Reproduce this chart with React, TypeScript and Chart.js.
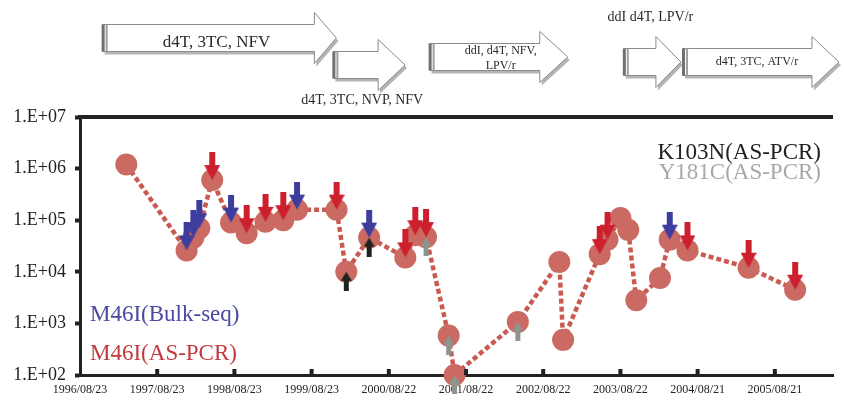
import React, { useEffect, useRef } from "react";
import { Chart, registerables } from "chart.js";

Chart.register(...registerables);

// ---------- data ----------
const sampleDates = [
  "1997/03/30", "1998/01/09", "1998/02/10", "1998/03/10", "1998/05/10",
  "1998/08/07", "1998/10/20", "1999/01/17", "1999/04/11", "1999/06/15",
  "1999/12/19", "2000/02/03", "2000/05/21", "2000/11/08", "2000/12/25",
  "2001/02/14", "2001/06/01", "2001/06/29", "2002/04/24", "2002/11/06",
  "2002/11/24", "2003/05/16", "2003/06/22", "2003/08/22", "2003/09/28",
  "2003/11/05", "2004/02/25", "2004/04/11", "2004/07/04", "2005/04/19",
  "2005/11/25",
];
const viralLoad = [
  1200000, 26000, 46000, 70000, 600000,
  90000, 56000, 93000, 100000, 160000,
  160000, 10000, 46000, 19000, 51000,
  47000, 580, 100, 1070, 15500,
  480, 22000, 42000, 110000, 65000,
  2800, 7600, 42000, 26000, 12000,
  4500,
];
// indices of samples where a mutation was detected
const m46iBulkSeqIdx = [1, 2, 3, 5, 9, 12, 27];
const m46iAsPcrIdx = [4, 6, 7, 8, 10, 13, 14, 15, 21, 22, 28, 29, 30];
const k103nAsPcrIdx = [11, 12];
const y181cAsPcrIdx = [15, 16, 17, 18];

const xTickLabels = [
  "1996/08/23", "1997/08/23", "1998/08/23", "1999/08/23", "2000/08/22",
  "2001/08/22", "2002/08/22", "2003/08/22", "2004/08/21", "2005/08/21",
];
const xRange = ["1996/08/23", "2006/05/23"];
const yTickValues = [1e2, 1e3, 1e4, 1e5, 1e6, 1e7];

const regimenLabels = [
  ["d4T, 3TC, NFV"],
  ["d4T, 3TC, NVP, NFV"],
  ["ddI, d4T, NFV,", "LPV/r"],
  ["ddI d4T, LPV/r"],
  ["d4T, 3TC, ATV/r"],
];
const regimenStart = ["1996/12/08", "1999/12/04", "2001/03/03", "2003/09/07", "2004/06/13"];
const regimenEnd = ["1999/12/18", "2000/11/07", "2002/12/16", "2004/06/03", "2006/06/20"];

const legendRight = ["K103N(AS-PCR)", "Y181C(AS-PCR)"];
const legendLeft = ["M46I(Bulk-seq)", "M46I(AS-PCR)"];

// ---------- styles / layout ----------
const SERIF = '"Liberation Serif", "DejaVu Serif", serif';
const COL_POINT = "#cb6a62";
const COL_LINE = "#c85a52";
const COL_RED = "#cd1f2e";
const COL_BLUE = "#3d3d9e";
const COL_BLACK = "#1c241e";
const COL_GRAY = "#8d9591";

const regimenLayout = [
  { cy: 38, head: 22, labelY: [43], labelDx: -3, font: 17 },
  { cy: 65, head: 27, labelY: [100], labelDx: -7, font: 14 },
  { cy: 57, head: 28, labelY: [51, 66], labelDx: 2, font: 12 },
  { cy: 62, head: 25, labelY: [17], labelDx: -2, font: 14 },
  { cy: 62, head: 27, labelY: [62], labelDx: -4, font: 12 },
];

const toTime = (s: string) => {
  const [y, m, d] = s.split("/").map(Number);
  return Date.UTC(y, m - 1, d);
};

function makeArrow(color: string, dir: "down" | "up", w: number, h: number, shaftW: number, headH: number) {
  const c = document.createElement("canvas");
  c.width = w;
  c.height = h * 2;
  const g = c.getContext("2d")!;
  g.fillStyle = color;
  g.beginPath();
  const cx = w / 2;
  if (dir === "down") {
    g.moveTo(cx - shaftW / 2, 0);
    g.lineTo(cx + shaftW / 2, 0);
    g.lineTo(cx + shaftW / 2, h - headH);
    g.lineTo(w, h - headH);
    g.lineTo(cx, h);
    g.lineTo(0, h - headH);
    g.lineTo(cx - shaftW / 2, h - headH);
  } else {
    g.moveTo(cx, h);
    g.lineTo(w, h + headH);
    g.lineTo(cx + shaftW / 2, h + headH);
    g.lineTo(cx + shaftW / 2, 2 * h);
    g.lineTo(cx - shaftW / 2, 2 * h);
    g.lineTo(cx - shaftW / 2, h + headH);
    g.lineTo(0, h + headH);
  }
  g.closePath();
  g.fill();
  return c;
}

function arrowPath(ctx: CanvasRenderingContext2D, x0: number, x1: number, cy: number, head: number) {
  const bh = 13.5;
  const hh = 25.5;
  const hx = x1 - head;
  ctx.beginPath();
  ctx.moveTo(x0, cy - bh);
  ctx.lineTo(hx, cy - bh);
  ctx.lineTo(hx, cy - hh);
  ctx.lineTo(x1, cy);
  ctx.lineTo(hx, cy + hh);
  ctx.lineTo(hx, cy + bh);
  ctx.lineTo(x0, cy + bh);
  ctx.closePath();
}

const headerPlugin = {
  id: "regimens",
  afterDraw(chart: any) {
    const ctx: CanvasRenderingContext2D = chart.ctx;
    const xs = chart.scales.x;
    ctx.save();
    regimenLabels.forEach((lines, i) => {
      const L = regimenLayout[i];
      const x0 = xs.getPixelForValue(toTime(regimenStart[i]));
      const x1 = xs.getPixelForValue(toTime(regimenEnd[i]));
      // shadow
      ctx.save();
      ctx.translate(2, 3);
      arrowPath(ctx, x0, x1, L.cy, L.head);
      ctx.fillStyle = "#b4b4b4";
      ctx.fill();
      ctx.restore();
      // body
      arrowPath(ctx, x0, x1, L.cy, L.head);
      ctx.fillStyle = "#ffffff";
      ctx.fill();
      ctx.lineWidth = 1;
      ctx.strokeStyle = "#8a8a8a";
      ctx.stroke();
      // double bar on the tail
      ctx.fillStyle = "#707070";
      ctx.fillRect(x0 - 1, L.cy - 13.5, 3, 27);
      ctx.fillStyle = "#a0a0a0";
      ctx.fillRect(x0 + 3, L.cy - 13.5, 2, 27);
      // label
      ctx.fillStyle = "#2a2a2a";
      ctx.font = `${L.font}px ${SERIF}`;
      ctx.textAlign = "center";
      ctx.textBaseline = "middle";
      const cx = (x0 + x1) / 2 + L.labelDx;
      lines.forEach((t, j) => ctx.fillText(t, cx, L.labelY[j]));
    });
    ctx.restore();
  },
};

const framePlugin = {
  id: "frame",
  afterDraw(chart: any) {
    const ctx: CanvasRenderingContext2D = chart.ctx;
    const a = chart.chartArea;
    const xs = chart.scales.x;
    ctx.save();
    ctx.fillStyle = "#222";
    ctx.fillRect(a.left - 2, a.top - 2, a.right - a.left + 2, 4);
    xTickLabels.forEach((lab, i) => {
      if (i === 0) return;
      const px = xs.getPixelForValue(toTime(lab));
      ctx.fillRect(px - 2, a.bottom - 6, 4, 6);
    });
    // legends
    ctx.font = `23px ${SERIF}`;
    ctx.textBaseline = "middle";
    ctx.textAlign = "right";
    ctx.fillStyle = "#222";
    ctx.fillText(legendRight[0], a.right - 12, a.top + 36);
    ctx.fillStyle = "#a8a8a8";
    ctx.fillText(legendRight[1], a.right - 12, a.top + 56);
    ctx.textAlign = "left";
    ctx.fillStyle = "#4a4aa2";
    ctx.fillText(legendLeft[0], a.left + 10, a.top + 198);
    ctx.fillStyle = "#c23a3e";
    ctx.fillText(legendLeft[1], a.left + 10, a.top + 237);
    ctx.restore();
  },
};

export default function App() {
  const ref = useRef<HTMLCanvasElement>(null);

  useEffect(() => {
    if (!ref.current) return;
    const pts = sampleDates.map((d, i) => ({ x: toTime(d), y: viralLoad[i] }));
    const pick = (idx: number[]) => idx.map((i) => pts[i]);

    const downRed = makeArrow(COL_RED, "down", 16, 28, 6, 15);
    const downBlue = makeArrow(COL_BLUE, "down", 16, 28, 6, 15);
    const upBlack = makeArrow(COL_BLACK, "up", 11, 19, 5, 9);
    const upGray = makeArrow(COL_GRAY, "up", 11, 19, 5, 9);

    const arrowDs = (label: string, data: any[], img: HTMLCanvasElement) => ({
      label,
      data,
      showLine: false,
      pointStyle: img,
      pointRadius: 10,
      order: 0,
      clip: false as any,
    });

    const chart = new Chart(ref.current, {
      type: "scatter",
      data: {
        datasets: [
          arrowDs("M46I(Bulk-seq)", pick(m46iBulkSeqIdx), downBlue),
          arrowDs("M46I(AS-PCR)", pick(m46iAsPcrIdx), downRed),
          arrowDs("K103N(AS-PCR)", pick(k103nAsPcrIdx), upBlack),
          arrowDs("Y181C(AS-PCR)", pick(y181cAsPcrIdx), upGray),
          {
            label: "Viral load",
            data: pts,
            showLine: true,
            borderColor: COL_LINE,
            borderWidth: 4.5,
            borderDash: [5, 3],
            pointStyle: "circle",
            pointRadius: 11,
            pointBackgroundColor: COL_POINT,
            pointBorderWidth: 0,
            order: 1,
            clip: false as any,
          },
        ],
      },
      options: {
        responsive: false,
        animation: false,
        events: [],
        layout: { padding: { top: 117, right: 0, left: 0, bottom: 0 } },
        plugins: { legend: { display: false }, tooltip: { enabled: false } },
        scales: {
          x: {
            type: "linear",
            min: toTime(xRange[0]),
            max: toTime(xRange[1]),
            grid: { display: false, drawTicks: false },
            border: { display: true, width: 3, color: "#222" },
            afterBuildTicks: (s: any) => {
              s.ticks = xTickLabels.map((l) => ({ value: toTime(l) }));
            },
            afterFit: (s: any) => {
              s.height = 29;
            },
            ticks: {
              autoSkip: false,
              maxRotation: 0,
              padding: 8,
              color: "#222",
              font: { family: SERIF, size: 12 },
              callback: (_v: any, i: number) => xTickLabels[i],
            },
          },
          y: {
            type: "logarithmic",
            min: 1e2,
            max: 1e7,
            grid: { display: true, drawOnChartArea: false, drawTicks: true, tickLength: 5, tickWidth: 4, color: "#222" },
            border: { display: true, width: 3, color: "#222" },
            afterBuildTicks: (s: any) => {
              s.ticks = yTickValues.map((v) => ({ value: v }));
            },
            afterFit: (s: any) => {
              s.width = 80;
            },
            ticks: {
              padding: 9,
              color: "#222",
              font: { family: SERIF, size: 18 },
              callback: (v: any) => "1.E+0" + Math.round(Math.log10(Number(v))),
            },
          },
        },
      },
      plugins: [headerPlugin, framePlugin],
    });
    return () => chart.destroy();
  }, []);

  return (
    <div style={{ position: "absolute", left: 0, top: 0, width: 844, height: 404, background: "#fff" }}>
      <canvas ref={ref} width={844} height={404} style={{ display: "block" }} />
    </div>
  );
}
